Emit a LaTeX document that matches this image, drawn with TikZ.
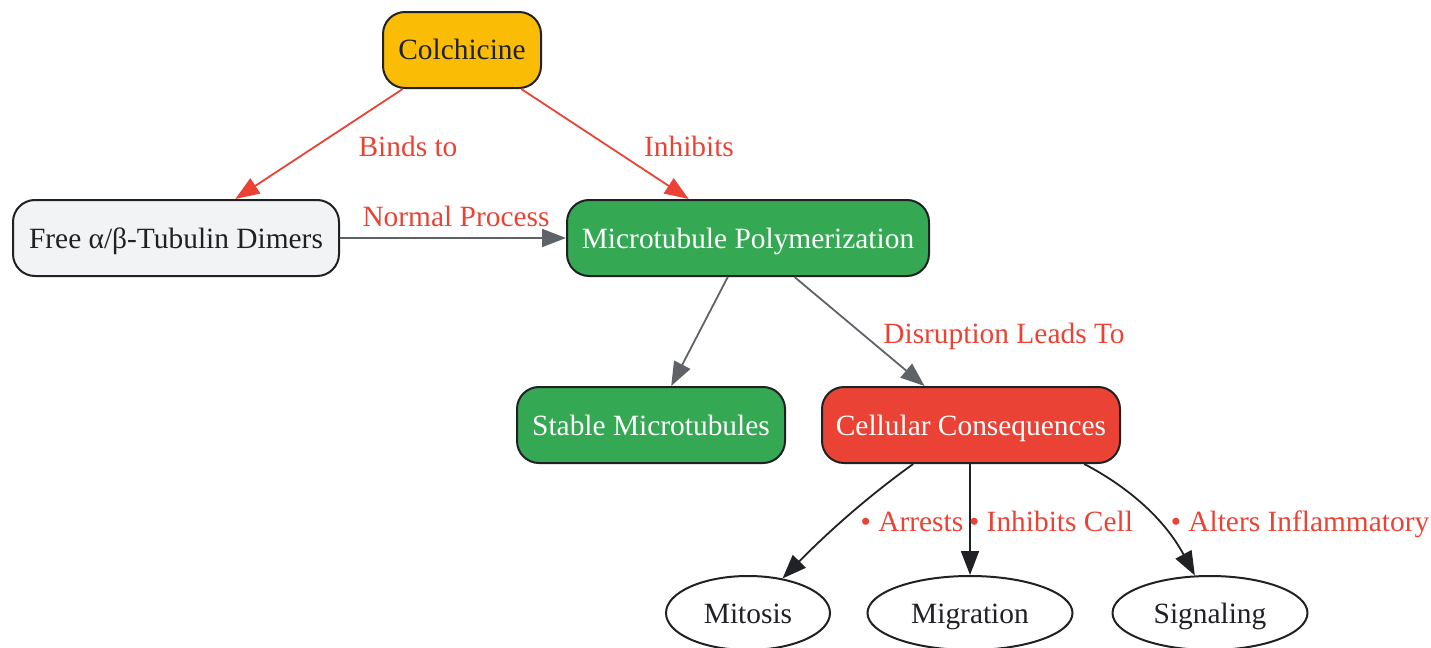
\documentclass[tikz,border=0pt]{standalone}
\usepackage{fontspec}
\setmainfont{Liberation Serif}
\usetikzlibrary{arrows.meta,shapes.geometric}
\definecolor{cred}{HTML}{EA4335}
\definecolor{cgray}{HTML}{5F6368}
\definecolor{cdark}{HTML}{202124}
\definecolor{cyellow}{HTML}{FBBC05}
\definecolor{cgreen}{HTML}{34A853}
\definecolor{clight}{HTML}{F1F3F4}
\tikzset{
  box/.style={draw=cdark, line width=1pt, rounded corners=11pt, minimum height=38pt, inner sep=0pt, text=cdark, text height=11.5pt, text depth=1.5pt, font=\fontsize{14.7}{17}\selectfont},
  oval/.style={draw=cdark, line width=1pt, ellipse, minimum height=37pt, inner sep=0pt, text=cdark, text height=11.5pt, text depth=1.5pt, fill=white, font=\fontsize{14.7}{17}\selectfont},
  lbl/.style={text=cred, font=\fontsize{14.7}{17}\selectfont, inner sep=0pt, text height=11.5pt, text depth=1.5pt},
  tip/.style={-{Triangle[length=12pt,width=9pt]}},
  redge/.style={tip, draw=cred, line width=0.9pt},
  gedge/.style={tip, draw=cgray, line width=0.9pt},
  dedge/.style={tip, draw=cdark, line width=0.9pt},
}
\begin{document}
\begin{tikzpicture}[x=0.5pt,y=-0.5pt]
\useasboundingbox (0,0) rectangle (1431,648);
\node[box, fill=cyellow, minimum width=79pt] (colch) at (462,50) {Colchicine};
\node[box, fill=clight, minimum width=163pt] (free) at (176,238) {Free α/β-Tubulin Dimers};
\node[box, fill=cgreen, text=white, minimum width=181pt] (mp) at (748,238) {Microtubule Polymerization};
\node[box, fill=cgreen, text=white, minimum width=134pt] (stable) at (651,425) {Stable Microtubules};
\node[box, fill=cred, text=white, minimum width=149pt] (cc) at (971,425) {Cellular Consequences};
\node[oval, minimum width=82pt] (mitosis) at (748,613) {Mitosis};
\node[oval, minimum width=102.5pt] (migration) at (970,613) {Migration};
\node[oval, minimum width=97.5pt] (signaling) at (1210,613) {Signaling};

\draw[redge] (colch) -- (free);
\draw[redge] (colch) -- (mp);
\draw[gedge] (free) -- (mp);
\draw[gedge] (mp) -- (stable);
\draw[gedge] (mp) -- (cc);
\draw[dedge] (cc.214) .. controls (870,495) and (830,530) .. (mitosis.45);
\draw[dedge] (cc.south -| migration.north) -- (migration.north);
\draw[dedge] (cc.-19) .. controls (1130,488) and (1165,520) .. (signaling.112);

\node[lbl] (l1) at (408,146) {Binds to};
\node[lbl] (l2) at (689,146) {Inhibits};
\node[lbl] (l3) at (456,216) {Normal Process};
\node[lbl] (l4) at (1004,333) {Disruption Leads To};
\node[lbl] (l5) at (912,521) {• Arrests};
\node[lbl] (l6) at (1051,521) {• Inhibits Cell};
\node[lbl] (l7) at (1300,521) {• Alters Inflammatory};
\end{tikzpicture}
\end{document}
